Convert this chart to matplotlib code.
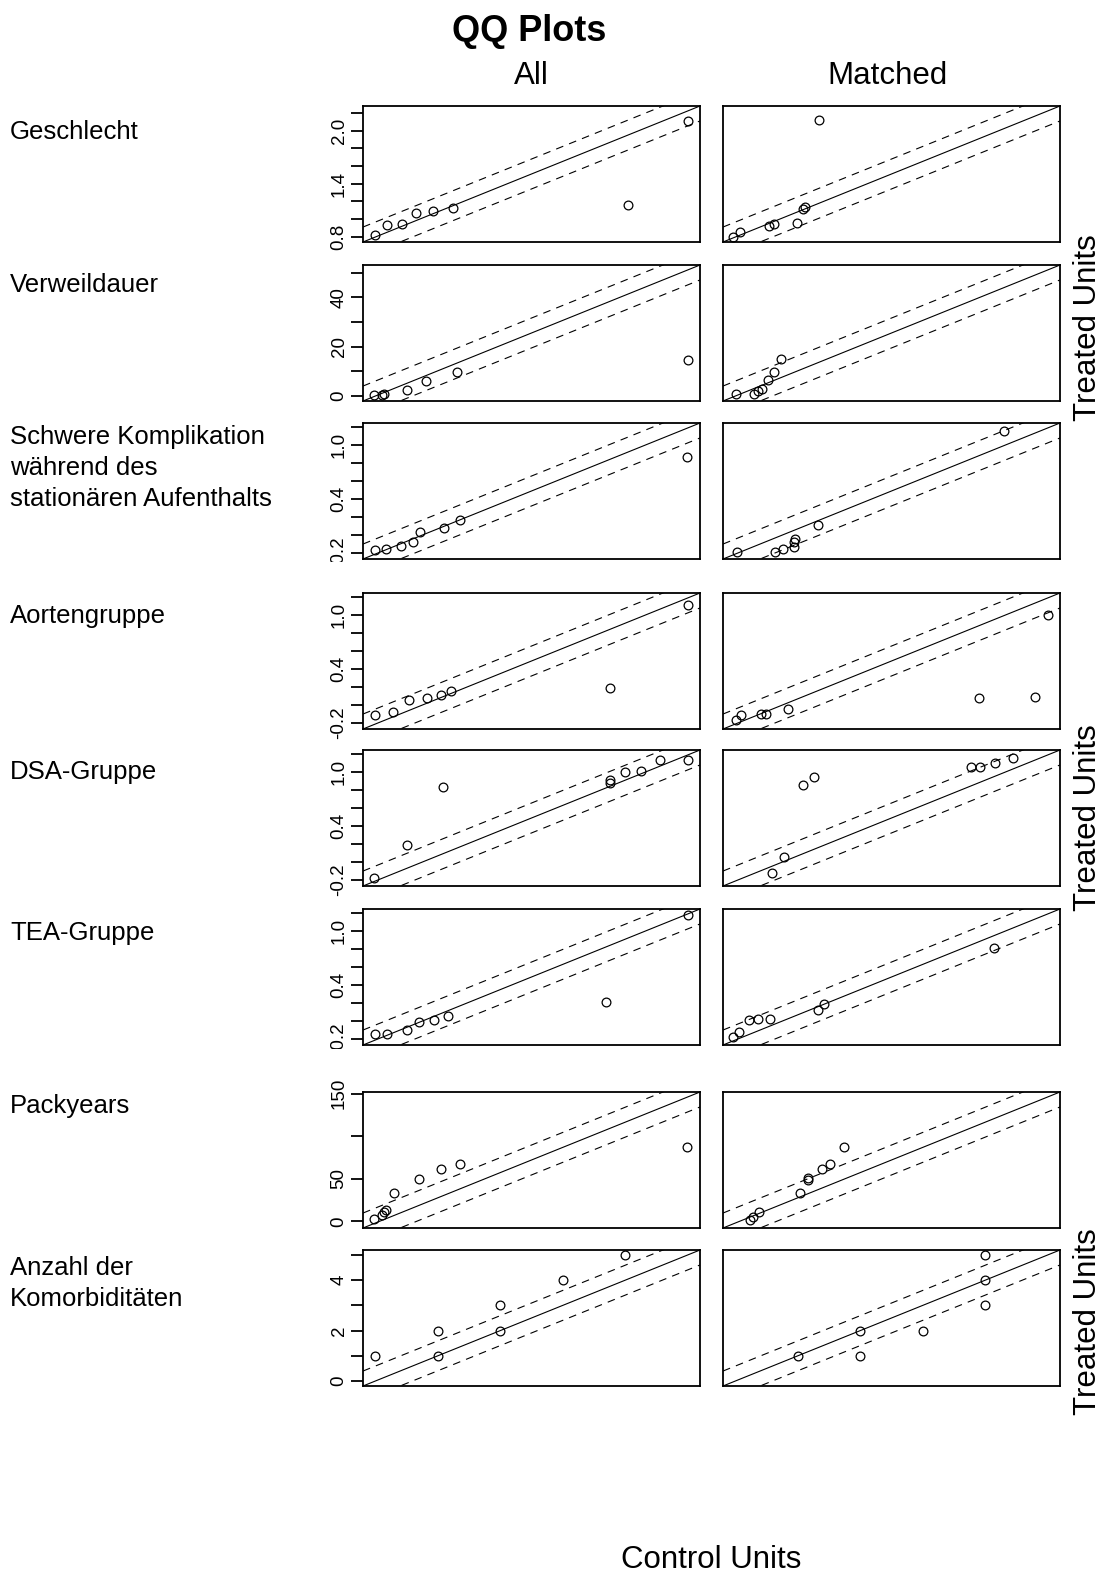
import matplotlib
matplotlib.use("Agg")
import matplotlib.pyplot as plt
from matplotlib.transforms import Bbox, TransformedBbox

plt.rcParams['font.family'] = ['Liberation Sans', 'DejaVu Sans']
plt.rcParams['axes.unicode_minus'] = False
plt.rcParams['lines.scale_dashes'] = False

# canvas size in pixels
W, H = 1101, 1580

# covariate names (left margin)
row_labels = [
    "Geschlecht",
    "Verweildauer",
    "Schwere Komplikation\nwährend des\nstationären Aufenthalts",
    "Aortengruppe",
    "DSA-Gruppe",
    "TEA-Gruppe",
    "Packyears",
    "Anzahl der\nKomorbiditäten",
]

# axis range per row (same on x and y)
row_ranges = [
    (0.74, 2.28),
    (-2.0, 53.1),
    (-0.27, 1.25),
    (-0.27, 1.25),
    (-0.27, 1.25),
    (-0.27, 1.25),
    (-7.9, 152.0),
    (-0.2, 5.2),
]

# y ticks and their labels (R drops overlapping labels)
row_ticks = [
    [0.8, 1.0, 1.2, 1.4, 1.6, 1.8, 2.0, 2.2],
    [0, 10, 20, 30, 40, 50],
    [-0.2, 0.0, 0.2, 0.4, 0.6, 0.8, 1.0, 1.2],
    [-0.2, 0.0, 0.2, 0.4, 0.6, 0.8, 1.0, 1.2],
    [-0.2, 0.0, 0.2, 0.4, 0.6, 0.8, 1.0, 1.2],
    [-0.2, 0.0, 0.2, 0.4, 0.6, 0.8, 1.0, 1.2],
    [0, 50, 100, 150],
    [0, 1, 2, 3, 4, 5],
]
frac_labels = ["-0.2", "", "", "0.4", "", "", "1.0", ""]
row_tick_labels = [
    ["0.8", "", "", "1.4", "", "", "2.0", ""],
    ["0", "", "20", "", "40", ""],
    frac_labels,
    frac_labels,
    frac_labels,
    frac_labels,
    ["0", "50", "", "150"],
    ["0", "", "2", "", "4", ""],
]

# QQ points: control quantiles (x) vs treated quantiles (y)
geschlecht_all_ctrl = [0.793, 0.85, 0.92, 0.98, 1.06, 1.151, 1.952, 2.223]
geschlecht_all_trt = [0.815, 0.936, 0.948, 1.068, 1.087, 1.128, 1.155, 2.106]
geschlecht_match_ctrl = [0.786, 0.819, 0.951, 0.971, 1.079, 1.107, 1.117, 1.179]
geschlecht_match_trt = [0.797, 0.853, 0.922, 0.948, 0.956, 1.117, 1.136, 2.126]

verweil_all_ctrl = [-0.2, 1.1, 1.4, 5.2, 8.3, 13.3, 51.2]
verweil_all_trt = [0.4, 0.4, 0.7, 2.5, 6.2, 9.6, 14.6]
verweil_match_ctrl = [0.2, 3.1, 3.7, 4.4, 5.4, 6.3, 7.5]
verweil_match_trt = [1.0, 0.7, 2.1, 3.0, 6.4, 9.6, 15.0]

kompl_all_ctrl = [-0.217, -0.168, -0.1, -0.044, -0.012, 0.096, 0.169, 1.192]
kompl_all_trt = [-0.165, -0.158, -0.127, -0.075, 0.037, 0.075, 0.162, 0.867]
kompl_match_ctrl = [-0.206, -0.036, 0.001, 0.049, 0.049, 0.054, 0.16, 0.998]
kompl_match_trt = [-0.196, -0.196, -0.158, -0.139, -0.083, -0.045, 0.105, 1.163]

aorta_all_ctrl = [-0.217, -0.136, -0.062, 0.017, 0.081, 0.127, 0.846, 1.197]
aorta_all_trt = [-0.11, -0.083, 0.055, 0.077, 0.112, 0.156, 0.183, 1.121]
aorta_match_ctrl = [-0.211, -0.188, -0.097, -0.078, 0.022, 0.885, 1.136, 1.195]
aorta_match_trt = [-0.164, -0.118, -0.107, -0.103, -0.048, 0.077, 0.09, 1.004]

dsa_all_ctrl = [-0.221, -0.072, 0.089, 0.846, 0.846, 0.91, 0.984, 1.069, 1.197]
dsa_all_trt = [-0.176, 0.188, 0.837, 0.885, 0.913, 1.007, 1.013, 1.138, 1.138]
dsa_match_ctrl = [-0.047, 0.007, 0.089, 0.142, 0.849, 0.888, 0.955, 1.037]
dsa_match_trt = [-0.12, 0.049, 0.856, 0.949, 1.063, 1.063, 1.1, 1.156]

tea_all_ctrl = [-0.217, -0.164, -0.072, -0.019, 0.049, 0.113, 0.824, 1.197]
tea_all_trt = [-0.148, -0.151, -0.103, -0.012, 0.011, 0.054, 0.216, 1.186]
tea_match_ctrl = [-0.223, -0.196, -0.153, -0.11, -0.057, 0.157, 0.184, 0.952]
tea_match_trt = [-0.186, -0.124, 0.013, 0.026, 0.019, 0.125, 0.189, 0.814]

pack_all_ctrl = [-2.8, 1.05, 2.17, 2.8, 7.0, 18.5, 28.9, 38.3, 145.9]
pack_all_trt = [2.5, 7.1, 11.1, 13.2, 33.0, 49.7, 61.5, 66.8, 87.7]
pack_match_ctrl = [5.05, 6.2, 9.4, 28.4, 32.4, 32.4, 39.3, 42.9, 49.7]
pack_match_trt = [1.2, 5.2, 11.1, 33.0, 48.9, 50.8, 61.5, 66.8, 87.7]

komorb_all_ctrl = [0, 1, 1, 2, 2, 3, 4]
komorb_all_trt = [1, 1, 2, 2, 3, 4, 5]
komorb_match_ctrl = [1, 2, 2, 3, 4, 4, 4]
komorb_match_trt = [1, 2, 1, 2, 3, 4, 5]

all_points = [
    (geschlecht_all_ctrl, geschlecht_all_trt),
    (verweil_all_ctrl, verweil_all_trt),
    (kompl_all_ctrl, kompl_all_trt),
    (aorta_all_ctrl, aorta_all_trt),
    (dsa_all_ctrl, dsa_all_trt),
    (tea_all_ctrl, tea_all_trt),
    (pack_all_ctrl, pack_all_trt),
    (komorb_all_ctrl, komorb_all_trt),
]
matched_points = [
    (geschlecht_match_ctrl, geschlecht_match_trt),
    (verweil_match_ctrl, verweil_match_trt),
    (kompl_match_ctrl, kompl_match_trt),
    (aorta_match_ctrl, aorta_match_trt),
    (dsa_match_ctrl, dsa_match_trt),
    (tea_match_ctrl, tea_match_trt),
    (pack_match_ctrl, pack_match_trt),
    (komorb_match_ctrl, komorb_match_trt),
]

# layout (pixels from top / left) - image is stitched from 3 R pages
row_tops = [106, 265, 423, 593, 750, 909, 1092, 1250]
label_baselines = [139, 292, 444, 623, 779, 940, 1113, 1275]
col_lefts = [363, 723]
BOX_W, BOX_H = 337, 136
# bottom edges of the stitched pages, tick labels get cut there
page_cut = {2: 562, 5: 1049}


def fx(x):
    return x / W


def fy(y):
    return 1 - y / H


def qq_panel(ax, ctrl, trt, rng):
    lo, hi = rng
    off = 0.11 * (hi - lo)
    ax.plot([lo, hi], [lo, hi], color="black", lw=0.8)
    ax.plot([lo, hi], [lo + off, hi + off], color="black", lw=0.8, dashes=(5.5, 4.5))
    ax.plot([lo, hi], [lo - off, hi - off], color="black", lw=0.8, dashes=(5.5, 4.5))
    ax.plot(ctrl, trt, "o", mfc="none", mec="black", ms=6.3, mew=0.9)
    ax.set_xlim(lo, hi)
    ax.set_ylim(lo, hi)
    ax.set_xticks([])
    for s in ax.spines.values():
        s.set_linewidth(1.3)


def main():
    fig = plt.figure(figsize=(W / 100, H / 100), dpi=100)

    for r in range(len(row_labels)):
        for c, pts in enumerate([all_points, matched_points]):
            ax = fig.add_axes([fx(col_lefts[c]), fy(row_tops[r] + BOX_H),
                               BOX_W / W, BOX_H / H])
            qq_panel(ax, pts[r][0], pts[r][1], row_ranges[r])
            if c == 0:
                ax.set_yticks(row_ticks[r], row_tick_labels[r])
                ax.tick_params(axis="y", length=8.6, width=1.3, labelsize=13.5,
                               pad=2.5, labelrotation=90)
                for t in ax.get_yticklabels():
                    t.set_verticalalignment("center")
                    if r in page_cut:
                        box = TransformedBbox(Bbox([[0, fy(page_cut[r])], [1, 1]]),
                                              fig.transFigure)
                        t.set_clip_box(box)
                        t.set_clip_on(True)
            else:
                ax.set_yticks([])

        # covariate name, one text per line
        for i, line in enumerate(row_labels[r].split("\n")):
            fig.text(fx(10), fy(label_baselines[r] + i * 31), line,
                     fontsize=18.5, ha="left", va="baseline")

    fig.text(fx(529), fy(41), "QQ Plots", fontsize=26, fontweight="bold",
             ha="center", va="baseline")
    fig.text(fx(531), fy(84), "All", fontsize=22.5, ha="center", va="baseline")
    fig.text(fx(887), fy(84), "Matched", fontsize=22.5, ha="center", va="baseline")

    for yc in [328, 818, 1322]:
        fig.text(fx(1096), fy(yc), "Treated Units", fontsize=22.5, rotation=90,
                 rotation_mode="anchor", ha="center", va="baseline")

    fig.text(fx(711), fy(1568), "Control Units", fontsize=22.5,
             ha="center", va="baseline")

    fig.savefig("out.png", dpi=100)


if __name__ == "__main__":
    main()
